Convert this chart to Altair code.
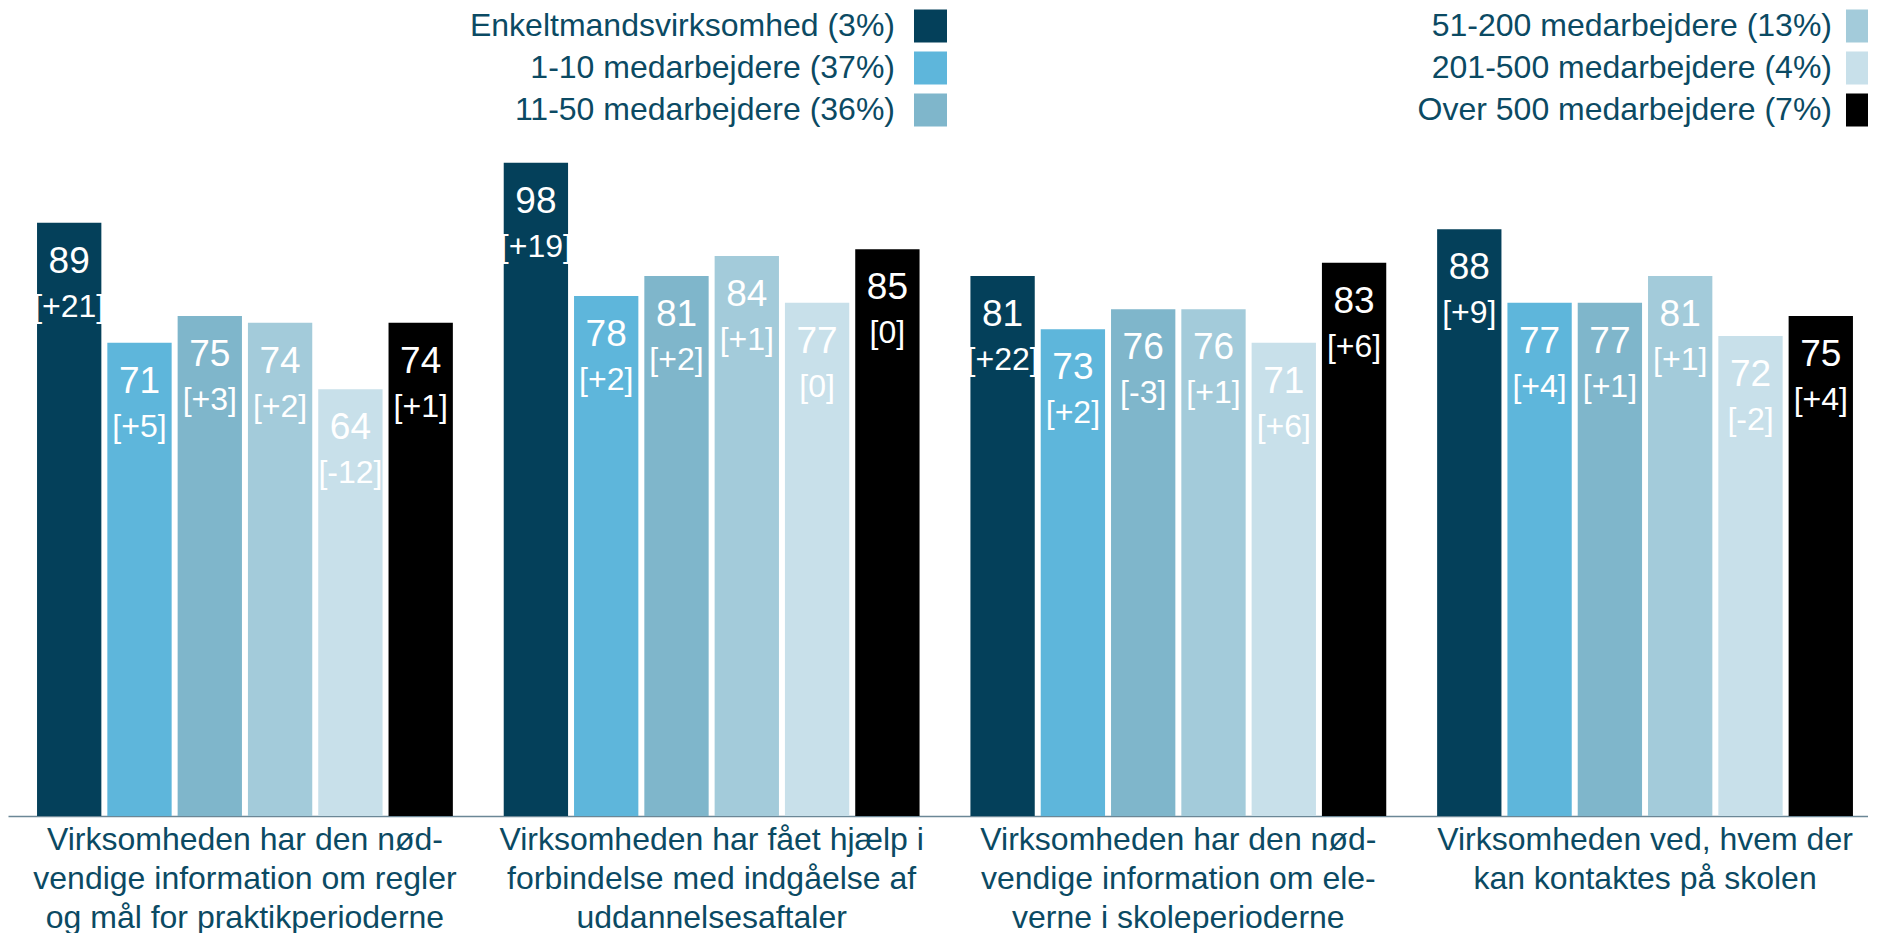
import altair as alt
import pandas as pd

FONT = "Liberation Sans"
TXT = "#0B4A63"

categories = [
    "Virksomheden har den nød-|vendige information om regler|og mål for praktikperioderne",
    "Virksomheden har fået hjælp i|forbindelse med indgåelse af|uddannelsesaftaler",
    "Virksomheden har den nød-|vendige information om ele-|verne i skoleperioderne",
    "Virksomheden ved, hvem der|kan kontaktes på skolen",
]
series = [
    "Enkeltmandsvirksomhed (3%)",
    "1-10 medarbejdere (37%)",
    "11-50 medarbejdere (36%)",
    "51-200 medarbejdere (13%)",
    "201-500 medarbejdere (4%)",
    "Over 500 medarbejdere (7%)",
]
colors = ["#04405A", "#5EB6DB", "#7FB6CB", "#A3CBDA", "#C8E0EA", "#000000"]

v_enkelt = [89, 98, 81, 88]
v_1_10 = [71, 78, 73, 77]
v_11_50 = [75, 81, 76, 77]
v_51_200 = [74, 84, 76, 81]
v_201_500 = [64, 77, 71, 72]
v_over500 = [74, 85, 83, 75]

c_enkelt = ["[+21]", "[+19]", "[+22]", "[+9]"]
c_1_10 = ["[+5]", "[+2]", "[+2]", "[+4]"]
c_11_50 = ["[+3]", "[+2]", "[-3]", "[+1]"]
c_51_200 = ["[+2]", "[+1]", "[+1]", "[+1]"]
c_201_500 = ["[-12]", "[0]", "[+6]", "[-2]"]
c_over500 = ["[+1]", "[0]", "[+6]", "[+4]"]

legend_col = [0, 0, 0, 1, 1, 1]
legend_row = [0, 1, 2, 0, 1, 2]

all_vals = [v_enkelt, v_1_10, v_11_50, v_51_200, v_201_500, v_over500]
all_chg = [c_enkelt, c_1_10, c_11_50, c_51_200, c_201_500, c_over500]

rows = []
for s, vals, chg in zip(series, all_vals, all_chg):
    for cat, v, c in zip(categories, vals, chg):
        rows.append({"category": cat, "series": s, "value": v, "change": c})
df = pd.DataFrame(rows)

leg_df = pd.DataFrame({"series": series, "col": legend_col, "row": legend_row})

W = 1861
color_enc = alt.Color("series:N", scale=alt.Scale(domain=series, range=colors), legend=None)

# ---- legend panel
lx = alt.X("col:Q", scale=alt.Scale(domain=[-0.98981, 1.00698], nice=False, zero=False), axis=None)
ly = alt.Y("row:Q", scale=alt.Scale(domain=[-0.4286, 2.5714], nice=False, zero=False, reverse=True), axis=None)
leg_base = alt.Chart(leg_df).encode(x=lx, y=ly)
leg_sq = leg_base.mark_square(size=1089, opacity=1, clip=True).encode(color=color_enc)
leg_tx0 = leg_base.mark_text(align="right", baseline="middle", dx=-35.5, font=FONT,
                             fontSize=32, color=TXT).encode(text="series:N").transform_filter(
    alt.datum.col == 0)
leg_tx1 = leg_base.mark_text(align="right", baseline="middle", dx=-30.5, font=FONT,
                             fontSize=32, color=TXT).encode(text="series:N").transform_filter(
    alt.datum.col == 1)
legend = alt.layer(leg_sq, leg_tx0, leg_tx1).properties(width=W, height=126)

# ---- bar panel
x_enc = alt.X(
    "category:N", sort=categories,
    scale=alt.Scale(paddingInner=0.109, paddingOuter=0.0483, align=0.644),
    axis=alt.Axis(title=None, labelAngle=0, labelExpr="split(datum.value, '|')",
                  labelFont=FONT, labelFontSize=32, labelLineHeight=39, labelColor=TXT,
                  labelLimit=700, labelPadding=8, ticks=False, domainColor="#6B8796",
                  domainWidth=1.5, labelBaseline="top"),
)
xo_enc = alt.XOffset("series:N", sort=series, scale=alt.Scale(paddingInner=0.085, paddingOuter=0))
y_enc = alt.Y("value:Q", scale=alt.Scale(domain=[0, 102.3], nice=False), axis=None)

base = alt.Chart(df).encode(x=x_enc, xOffset=xo_enc, y=y_enc)
bars = base.mark_bar().encode(color=color_enc)
val_txt = base.mark_text(baseline="middle", dy=39, font=FONT, fontSize=37, color="white").encode(
    text="value:Q")
chg_txt = base.mark_text(baseline="middle", dy=84, font=FONT, fontSize=32, color="white").encode(
    text="change:N")
barchart = alt.layer(bars, val_txt, chg_txt).properties(width=W, height=682)

chart = alt.vconcat(legend, barchart, spacing=0).properties(
    padding={"left": 0, "top": 0, "right": -1, "bottom": 0}
).configure_view(stroke=None)
chart.save("out.html", embed_options={"renderer": "svg", "actions": False})
